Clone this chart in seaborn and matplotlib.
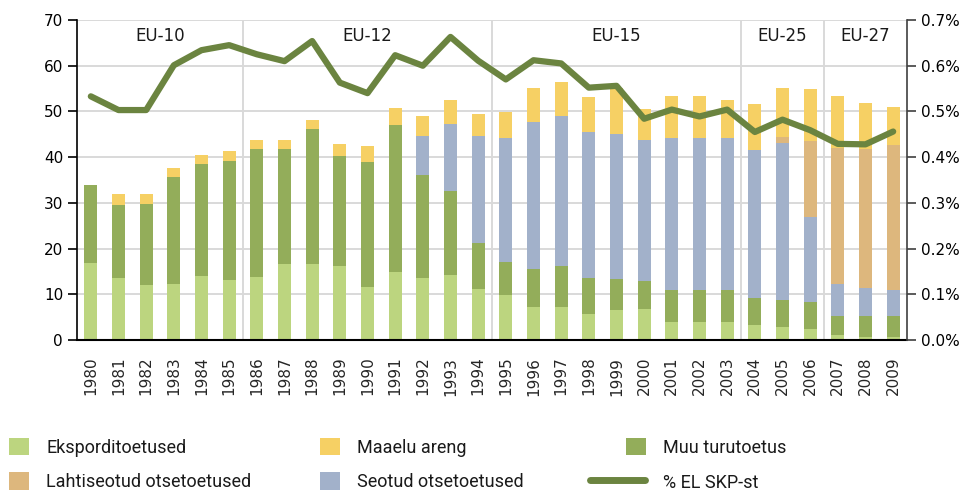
import numpy as np
import pandas as pd
import matplotlib
matplotlib.use("Agg")
import matplotlib.pyplot as plt
import seaborn as sns
from matplotlib.patches import Patch
from matplotlib.lines import Line2D
from matplotlib.ticker import FuncFormatter, MultipleLocator

# --- data -------------------------------------------------------------------
years = list(range(1980, 2010))

# segment heights (billion EUR)
eksport = [16.9, 13.6, 12.1, 12.3, 14.0, 13.2, 13.8, 16.7, 16.7, 16.1,
           11.5, 14.9, 13.6, 14.2, 11.1, 9.9, 7.2, 7.2, 5.6, 6.6,
           6.8, 3.9, 4.0, 4.0, 3.3, 2.9, 2.3, 1.1, 0.7, 0.7]
muu = [16.9, 16.0, 17.7, 23.3, 24.6, 25.9, 27.9, 25.0, 29.4, 24.1,
       27.4, 32.1, 22.4, 18.3, 10.2, 7.2, 8.4, 9.0, 8.0, 6.8,
       6.1, 7.1, 7.0, 7.0, 5.9, 5.9, 6.0, 4.2, 4.6, 4.6]
seotud = [0, 0, 0, 0, 0, 0, 0, 0, 0, 0,
          0, 0, 8.6, 14.7, 23.3, 27.0, 32.0, 32.7, 32.0, 31.6,
          30.8, 33.1, 33.1, 33.1, 32.3, 34.2, 18.7, 7.0, 6.1, 5.7]
lahti = [0, 0, 0, 0, 0, 0, 0, 0, 0, 0,
         0, 0, 0, 0, 0, 0, 0, 0, 0, 0,
         0, 0, 0, 0, 0, 1.5, 16.5, 29.8, 30.3, 31.6]
maaelu = [0, 2.4, 2.2, 2.1, 1.8, 2.2, 2.0, 2.0, 2.0, 2.6,
          3.5, 3.7, 4.3, 5.3, 4.8, 5.7, 7.5, 7.5, 7.5, 10.1,
          6.8, 9.2, 9.2, 8.4, 10.1, 10.6, 11.4, 11.2, 10.1, 8.3]

# CAP expenditure as % of EU GDP
skp = [0.533, 0.503, 0.503, 0.601, 0.634, 0.645, 0.625, 0.610, 0.654, 0.563,
       0.540, 0.623, 0.600, 0.663, 0.611, 0.570, 0.612, 0.605, 0.552, 0.556,
       0.484, 0.504, 0.489, 0.504, 0.455, 0.482, 0.459, 0.429, 0.428, 0.456]

groups = ["EU-10", "EU-12", "EU-15", "EU-25", "EU-27"]
group_start = [1980, 1986, 1995, 2004, 2007]

labels = {
    "eksport": "Eksporditoetused",
    "maaelu": "Maaelu areng",
    "muu": "Muu turutoetus",
    "lahti": "Lahtiseotud otsetoetused",
    "seotud": "Seotud otsetoetused",
    "skp": "% EL SKP-st",
}
colors = {
    "eksport": "#bcd57f",
    "muu": "#93ad5a",
    "seotud": "#a2b1ca",
    "lahti": "#ddb77d",
    "maaelu": "#f6d064",
    "skp": "#6b8440",
}

df = pd.DataFrame({"year": [str(y) for y in years],
                   "eksport": eksport, "muu": muu, "seotud": seotud,
                   "lahti": lahti, "maaelu": maaelu, "skp": skp})
df["pos"] = np.arange(len(df))
stack_order = ["eksport", "muu", "seotud", "lahti", "maaelu"]
cum = df[stack_order].cumsum(axis=1)

# --- figure -----------------------------------------------------------------
sns.set_style("white")
plt.rcParams["font.family"] = ["DejaVu Sans"]

fig = plt.figure(figsize=(9.66, 4.91), dpi=100)
ax = fig.add_axes([77 / 966, 1 - 340 / 491, 830 / 966, 320 / 491])

grid_c = "#d9d9d9"
ax.set_axisbelow(True)
ax.yaxis.grid(True, color=grid_c, lw=1.4)

# stacked bars: draw cumulative totals from the top layer downwards
for key in reversed(stack_order):
    sns.barplot(x=df["year"], y=cum[key], color=colors[key], saturation=1,
                width=0.47, errorbar=None, linewidth=0, ax=ax)

ax.set_xlim(-0.5, len(years) - 0.5)
ax.set_ylim(0, 70)
ax.yaxis.set_major_locator(MultipleLocator(10))
ax.set_xlabel("")
ax.set_ylabel("")

# enlargement period separators and labels
bounds = [years.index(y) - 0.5 for y in group_start] + [len(years) - 0.5]
ax.vlines(bounds[1:-1], 0, 70, color=grid_c, lw=1.4, zorder=0.5)
for name, a, b in zip(groups, bounds[:-1], bounds[1:]):
    ax.text((a + b) / 2, 66.4, name, ha="center", va="center", fontsize=12,
            color="#1a1a1a")

for s in ["top", "right"]:
    ax.spines[s].set_visible(False)
ax.spines["left"].set_color("black")
ax.spines["left"].set_linewidth(1.2)
ax.spines["bottom"].set_color("black")
ax.spines["bottom"].set_linewidth(1.5)
ax.tick_params(axis="y", direction="out", length=6.5, width=1.2, pad=3.5,
               labelsize=11, colors="black", left=True)
ax.tick_params(axis="x", length=0, pad=12, labelsize=11, rotation=90)

# GDP share line on the secondary axis
ax2 = ax.twinx()
sns.lineplot(data=df, x="pos", y="skp", color=colors["skp"], lw=4.5,
             ax=ax2, sort=False)
ax2.set_xlim(-0.5, len(years) - 0.5)
ax2.set_ylim(0, 0.7)
ax2.yaxis.set_major_locator(MultipleLocator(0.1))
ax2.yaxis.set_major_formatter(FuncFormatter(lambda v, p: f"{v:.1f}%"))
ax2.set_ylabel("")
ax2.set_xlabel("")
for s in ["top", "left", "bottom"]:
    ax2.spines[s].set_visible(False)
ax2.spines["right"].set_color("#404040")
ax2.spines["right"].set_linewidth(1.2)
ax2.tick_params(axis="y", direction="out", length=6.5, width=1.2, pad=3.5,
                labelsize=11, colors="#404040", labelcolor="black")
ax2.grid(False)

# --- legend -----------------------------------------------------------------
fs = 13
leg_font = {"family": ["Roboto", "DejaVu Sans"], "size": fs}
row_top = 438


def sq(key):
    return Patch(facecolor=colors[key], edgecolor="none", label=labels[key])


def add_legend(handles, x_px, y_px, hlen, htp):
    leg = fig.legend(handles=handles, loc="upper left",
                     bbox_to_anchor=(x_px / 966, 1 - y_px / 491),
                     frameon=False, prop=leg_font, borderpad=0,
                     borderaxespad=0, handlelength=hlen, handleheight=1.11,
                     handletextpad=htp, labelspacing=0.85)
    for t in leg.get_texts():
        t.set_color("#1a1a1a")
    return leg


add_legend([sq("eksport"), sq("lahti")], 9, row_top, 1.11, 0.94)
add_legend([sq("maaelu"), sq("seotud")], 320, row_top, 1.11, 0.94)
add_legend([sq("muu")], 626, row_top, 1.11, 0.94)
add_legend([Line2D([], [], color=colors["skp"], lw=5, solid_capstyle="round",
                   label=labels["skp"])], 590, row_top + 35, 3.05, 1.0)

fig.savefig("out.png", dpi=100)
